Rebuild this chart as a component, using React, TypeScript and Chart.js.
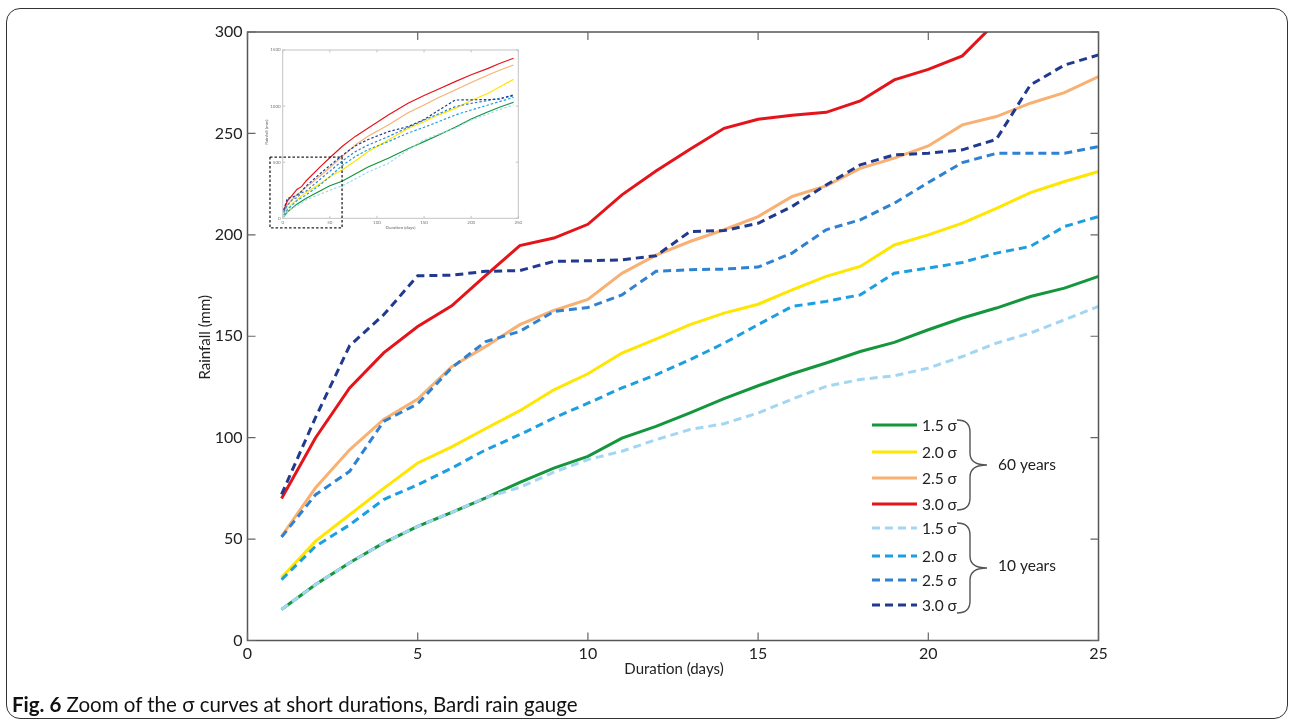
import React, { useEffect, useRef } from "react";
import { Chart, registerables } from "chart.js";
Chart.register(...registerables);

// ---------- main chart data (days 1..25) ----------
const days = [1, 2, 3, 4, 5, 6, 7, 8, 9, 10, 11, 12, 13, 14, 15, 16, 17, 18, 19, 20, 21, 22, 23, 24, 25];
const green60 = [15.3, 27.6, 38.3, 48.1, 56.3, 63.2, 70.3, 78, 85, 90.8, 99.8, 105.6, 112.2, 119.2, 125.6, 131.5, 136.8, 142.5, 147, 153.2, 159, 163.9, 169.6, 173.7, 179.5];
const yellow60 = [31, 49, 62, 75, 87.5, 95.5, 104.5, 113.3, 123.6, 131.5, 141.7, 148.6, 155.7, 161.4, 165.8, 172.9, 179.5, 184.4, 195, 200, 205.8, 213.1, 220.8, 226.3, 231.2];
const orange60 = [51.4, 75.3, 94, 109, 119, 135, 145, 155.7, 162.7, 168.2, 181, 190, 196.7, 202.5, 209, 218.9, 224.1, 232.8, 237.8, 243.8, 254.2, 258.3, 264.9, 270.1, 278];
const red60 = [70, 100, 124.5, 141.8, 154.8, 165, 180, 194.7, 198.4, 205.2, 219.7, 231.5, 242.2, 252.5, 257, 259, 260.4, 266, 276.4, 281.6, 288.2, 305];
const lightBlue10 = [15.3, 27.6, 38.3, 48.1, 56.3, 63.2, 70.5, 75.5, 83, 89.2, 93.3, 99, 104, 106.9, 112.2, 119, 125.3, 128.7, 130.5, 134.3, 140, 146.6, 151.6, 158.1, 164.7];
const cyan10 = [30, 46.5, 57, 69.5, 76.8, 85, 94, 101.5, 109.7, 117, 124.5, 131, 138.4, 146.6, 155.7, 164.7, 167.2, 170.4, 181.1, 183.6, 186.4, 191, 194.3, 204.1, 209];
const blue10 = [51, 71.9, 83.4, 108, 116.7, 134.5, 147.4, 152.4, 162.2, 164.2, 170.4, 182, 182.8, 183.1, 184.1, 191, 202.5, 207.4, 215.6, 225.8, 235.6, 240.2, 240.2, 240.2, 243.5];
const navy10 = [72, 110, 145.3, 160.6, 179.8, 180.1, 182, 182.4, 186.9, 187.2, 187.7, 189.7, 201.6, 202.1, 205.7, 214, 224.6, 234.5, 239.4, 240.2, 241.9, 247.1, 273.9, 283.7, 288.7];

// ---------- inset data (full durations) ----------
const insetDays = [1, 5, 10, 15, 20, 25, 40, 50, 63, 77, 90, 112, 133, 150, 165, 183, 200, 218, 230, 245];
const insetRed = [70, 155, 205, 257, 282, 335, 460, 540, 640, 730, 800, 921, 1025, 1095, 1150, 1218, 1280, 1336, 1380, 1426];
const insetOrange = [52, 118, 168, 208, 244, 278, 380, 450, 550, 653, 730, 832, 940, 1010, 1075, 1143, 1210, 1277, 1320, 1366];
const insetYellow = [30, 87, 131, 166, 200, 231, 310, 370, 430, 510, 590, 698, 800, 861, 920, 980, 1050, 1114, 1170, 1238];
const insetGreen = [15, 56, 91, 126, 153, 179, 245, 290, 330, 395, 455, 535, 620, 683, 740, 811, 885, 950, 990, 1034];
const insetNavy = [72, 180, 187, 206, 240, 289, 400, 470, 560, 645, 700, 772, 817, 880, 960, 1054, 1056, 1058, 1062, 1100];
const insetBlue = [51, 117, 164, 184, 226, 243, 350, 420, 510, 594, 650, 728, 810, 876, 930, 995, 1025, 1050, 1070, 1090];
const insetCyan = [29, 77, 117, 156, 184, 209, 300, 370, 470, 550, 610, 683, 760, 811, 860, 921, 965, 1010, 1040, 1078];
const insetLightBlue = [15, 56, 89, 112, 134, 165, 215, 250, 290, 350, 410, 490, 610, 698, 750, 802, 876, 930, 970, 1010];

// ---------- ticks / labels ----------
const xTicksMain = [0, 5, 10, 15, 20, 25];
const yTicksMain = [0, 50, 100, 150, 200, 250, 300];
const xTicksInset = [0, 50, 100, 150, 200, 250];
const yTicksInset = [0, 500, 1000, 1500];
const sigmaLabels = ["1.5 σ", "2.0 σ", "2.5 σ", "3.0 σ"];
const groupLabels = ["60 years", "10 years"];
const zoomBox = { x0: -13.5, x1: 63, y0: -86, y1: 546 };

// ---------- colours ----------
const C_GREEN = "#14963c";
const C_YELLOW = "#ffe600";
const C_ORANGE = "#f8b073";
const C_RED = "#e3151a";
const C_LB = "#a3d6f2";
const C_CYAN = "#1c9fe0";
const C_BLUE = "#2f82d2";
const C_NAVY = "#1f3a8f";

const FONT = "Lato, 'Open Sans', sans-serif";

const pts = (xs: number[], ys: number[]) =>
  ys.map((v, i) => ({ x: xs[i], y: v }));

const mainSeries = [
  { data: navy10, color: C_NAVY, dash: true },
  { data: blue10, color: C_BLUE, dash: true },
  { data: cyan10, color: C_CYAN, dash: true },
  { data: lightBlue10, color: C_LB, dash: true },
  { data: red60, color: C_RED, dash: false },
  { data: orange60, color: C_ORANGE, dash: false },
  { data: yellow60, color: C_YELLOW, dash: false },
  { data: green60, color: C_GREEN, dash: false },
];

const insetSeries = [
  { data: insetNavy, color: C_NAVY, dash: true },
  { data: insetBlue, color: C_BLUE, dash: true },
  { data: insetCyan, color: C_CYAN, dash: true },
  { data: insetLightBlue, color: C_LB, dash: true },
  { data: insetRed, color: C_RED, dash: false },
  { data: insetOrange, color: C_ORANGE, dash: false },
  { data: insetYellow, color: C_YELLOW, dash: false },
  { data: insetGreen, color: C_GREEN, dash: false },
];

const legendColors60 = [C_GREEN, C_YELLOW, C_ORANGE, C_RED];
const legendColors10 = [C_LB, C_CYAN, C_BLUE, C_NAVY];

function drawBrace(ctx: CanvasRenderingContext2D, x0: number, top: number, bottom: number, xv: number, tip: number) {
  const mid = (top + bottom) / 2;
  const r = 12;
  ctx.beginPath();
  ctx.moveTo(x0, top);
  ctx.quadraticCurveTo(xv, top, xv, top + r);
  ctx.lineTo(xv, mid - r);
  ctx.quadraticCurveTo(xv, mid, tip, mid);
  ctx.quadraticCurveTo(xv, mid, xv, mid + r);
  ctx.lineTo(xv, bottom - r);
  ctx.quadraticCurveTo(xv, bottom, x0, bottom);
  ctx.stroke();
}

const mainDecor = {
  id: "mainDecor",
  afterDraw(chart: any) {
    const { ctx, chartArea } = chart;
    const { left, right, top, bottom } = chartArea;
    const xs = chart.scales.x;
    const ys = chart.scales.y;
    ctx.save();
    ctx.strokeStyle = "#555";
    ctx.lineWidth = 1.5;
    ctx.setLineDash([]);
    ctx.strokeRect(left, top, right - left, bottom - top);
    ctx.strokeStyle = "#666";
    ctx.lineWidth = 1.2;
    ctx.beginPath();
    xTicksMain.forEach((v) => {
      const px = xs.getPixelForValue(v);
      ctx.moveTo(px, bottom);
      ctx.lineTo(px, bottom - 8);
      ctx.moveTo(px, top);
      ctx.lineTo(px, top + 8);
    });
    yTicksMain.forEach((v) => {
      const py = ys.getPixelForValue(v);
      ctx.moveTo(left, py);
      ctx.lineTo(left + 8, py);
      ctx.moveTo(right, py);
      ctx.lineTo(right - 8, py);
    });
    ctx.stroke();

    ctx.fillStyle = "#222";
    ctx.font = `15px ${FONT}`;
    ctx.textAlign = "center";
    ctx.textBaseline = "middle";
    ctx.fillText("Duration (days)", (left + right) / 2 + 1, bottom + 29);
    ctx.save();
    ctx.translate(left - 42, (top + bottom) / 2 + 1);
    ctx.rotate(-Math.PI / 2);
    ctx.fillText("Rainfall (mm)", 0, 0);
    ctx.restore();

    const rows = [425, 452, 478, 504, 528, 556, 580, 605];
    const lx0 = 872, lx1 = 917;
    ctx.textAlign = "left";
    ctx.font = `15.5px ${FONT}`;
    rows.forEach((ry, i) => {
      const is10 = i >= 4;
      const col = is10 ? legendColors10[i - 4] : legendColors60[i];
      ctx.strokeStyle = col;
      ctx.lineWidth = 3;
      ctx.setLineDash(is10 ? [8, 5] : []);
      ctx.beginPath();
      ctx.moveTo(lx0, ry);
      ctx.lineTo(lx1, ry);
      ctx.stroke();
      ctx.setLineDash([]);
      ctx.fillStyle = "#222";
      ctx.fillText(sigmaLabels[i % 4], 922, ry + 1);
    });
    ctx.strokeStyle = "#555";
    ctx.lineWidth = 1.4;
    drawBrace(ctx, 957, 420, 510, 970, 987);
    drawBrace(ctx, 957, 523, 613, 970, 987);
    ctx.fillStyle = "#222";
    ctx.fillText(groupLabels[0], 998, 465);
    ctx.fillText(groupLabels[1], 998, 566);
    ctx.restore();
  },
};

const insetDecor = {
  id: "insetDecor",
  afterDraw(chart: any) {
    const { ctx, chartArea } = chart;
    const { left, right, top, bottom } = chartArea;
    const xs = chart.scales.x;
    const ys = chart.scales.y;
    ctx.save();
    ctx.strokeStyle = "#c4c4c4";
    ctx.lineWidth = 1;
    ctx.strokeRect(left, top, right - left, bottom - top);
    ctx.beginPath();
    xTicksInset.forEach((v) => {
      const px = xs.getPixelForValue(v);
      ctx.moveTo(px, bottom);
      ctx.lineTo(px, bottom - 2.5);
      ctx.moveTo(px, top);
      ctx.lineTo(px, top + 2.5);
    });
    yTicksInset.forEach((v) => {
      const py = ys.getPixelForValue(v);
      ctx.moveTo(left, py);
      ctx.lineTo(left + 2.5, py);
      ctx.moveTo(right, py);
      ctx.lineTo(right - 2.5, py);
    });
    ctx.stroke();
    ctx.strokeStyle = "#222";
    ctx.lineWidth = 1.3;
    ctx.setLineDash([2.5, 2]);
    const rx0 = xs.getPixelForValue(zoomBox.x0);
    const rx1 = xs.getPixelForValue(zoomBox.x1);
    const ry0 = ys.getPixelForValue(zoomBox.y1);
    const ry1 = ys.getPixelForValue(zoomBox.y0);
    ctx.strokeRect(rx0, ry0, rx1 - rx0, ry1 - ry0);
    ctx.setLineDash([]);
    ctx.fillStyle = "#666";
    ctx.font = `4.5px ${FONT}`;
    ctx.textAlign = "center";
    ctx.textBaseline = "middle";
    ctx.fillText("Duration (days)", (left + right) / 2, bottom + 9);
    ctx.save();
    ctx.translate(left - 16, (top + bottom) / 2 - 2);
    ctx.rotate(-Math.PI / 2);
    ctx.fillText("Rainfall (mm)", 0, 0);
    ctx.restore();
    ctx.restore();
  },
};

const plainTick = (v: any) => String(v);

function MainChart() {
  const ref = useRef<HTMLCanvasElement | null>(null);
  useEffect(() => {
    if (!ref.current) return;
    const chart = new Chart(ref.current, {
      type: "line",
      data: {
        datasets: mainSeries.map((s) => ({
          data: pts(days, s.data),
          borderColor: s.color,
          backgroundColor: s.color,
          borderWidth: 3,
          borderDash: s.dash ? [8, 5] : [],
          pointRadius: 0,
          tension: 0,
          fill: false,
        })),
      },
      options: {
        animation: false,
        responsive: false,
        maintainAspectRatio: false,
        events: [],
        layout: { padding: { left: 0, top: 32, right: 191.5, bottom: 0 } },
        plugins: { legend: { display: false }, tooltip: { enabled: false } },
        scales: {
          x: {
            type: "linear",
            min: 0,
            max: 25,
            ticks: { stepSize: 5, padding: 4, maxRotation: 0, color: "#222", font: { family: FONT, size: 16 }, callback: plainTick },
            grid: { display: false, drawTicks: false },
            border: { display: false },
            afterFit: (s: any) => {
              s.height = 83.5;
              s.paddingLeft = 0;
              s.paddingRight = 0;
            },
          },
          y: {
            min: 0,
            max: 300,
            ticks: { stepSize: 50, padding: 5, color: "#222", font: { family: FONT, size: 16 }, callback: plainTick },
            grid: { display: false, drawTicks: false },
            border: { display: false },
            afterFit: (s: any) => {
              s.width = 247.5;
              s.paddingTop = 0;
              s.paddingBottom = 0;
            },
          },
        },
      } as any,
      plugins: [mainDecor],
    });
    return () => chart.destroy();
  }, []);
  return (
    <canvas
      ref={ref}
      width={1290}
      height={724}
      style={{ position: "absolute", left: 0, top: 0, width: 1290, height: 724 }}
    />
  );
}

function InsetChart() {
  const ref = useRef<HTMLCanvasElement | null>(null);
  useEffect(() => {
    if (!ref.current) return;
    const chart = new Chart(ref.current, {
      type: "line",
      data: {
        datasets: insetSeries.map((s) => ({
          data: pts(insetDays, s.data),
          borderColor: s.color,
          backgroundColor: s.color,
          borderWidth: 1.2,
          borderDash: s.dash ? [2.5, 2] : [],
          pointRadius: 0,
          tension: 0,
          fill: false,
        })),
      },
      options: {
        animation: false,
        responsive: false,
        maintainAspectRatio: false,
        events: [],
        layout: { padding: { left: 0, top: 10, right: 26.7, bottom: 0 } },
        plugins: { legend: { display: false }, tooltip: { enabled: false } },
        scales: {
          x: {
            type: "linear",
            min: 0,
            max: 250,
            ticks: { stepSize: 50, padding: 2, maxRotation: 0, color: "#777", font: { family: FONT, size: 4.5 }, callback: plainTick },
            grid: { display: false, drawTicks: false },
            border: { display: false },
            afterFit: (s: any) => {
              s.height = 21.7;
              s.paddingLeft = 0;
              s.paddingRight = 0;
            },
          },
          y: {
            min: 0,
            max: 1500,
            ticks: { stepSize: 500, padding: 2, color: "#777", font: { family: FONT, size: 4.5 }, callback: plainTick },
            grid: { display: false, drawTicks: false },
            border: { display: false },
            afterFit: (s: any) => {
              s.width = 27.7;
              s.paddingTop = 0;
              s.paddingBottom = 0;
            },
          },
        },
      } as any,
      plugins: [insetDecor],
    });
    return () => chart.destroy();
  }, []);
  return (
    <canvas
      ref={ref}
      width={290}
      height={200}
      style={{ position: "absolute", left: 255, top: 40, width: 290, height: 200 }}
    />
  );
}

export default function App() {
  return (
    <div
      style={{
        position: "absolute",
        left: 0,
        top: 0,
        width: 1290,
        height: 724,
        overflow: "hidden",
        background: "#fff",
        fontFamily: FONT,
      }}
    >
      <div
        style={{
          position: "absolute",
          left: 6,
          top: 8,
          width: 1282,
          height: 711,
          border: "1px solid #333",
          borderRadius: 14,
          boxSizing: "border-box",
        }}
      />
      <MainChart />
      <InsetChart />
      <div
        style={{
          position: "absolute",
          left: 12,
          top: 694,
          fontSize: 20.5,
          lineHeight: "20.5px",
          color: "#111",
          whiteSpace: "nowrap",
        }}
      >
        <b>Fig. 6</b> Zoom of the σ curves at short durations, Bardi rain gauge
      </div>
    </div>
  );
}
